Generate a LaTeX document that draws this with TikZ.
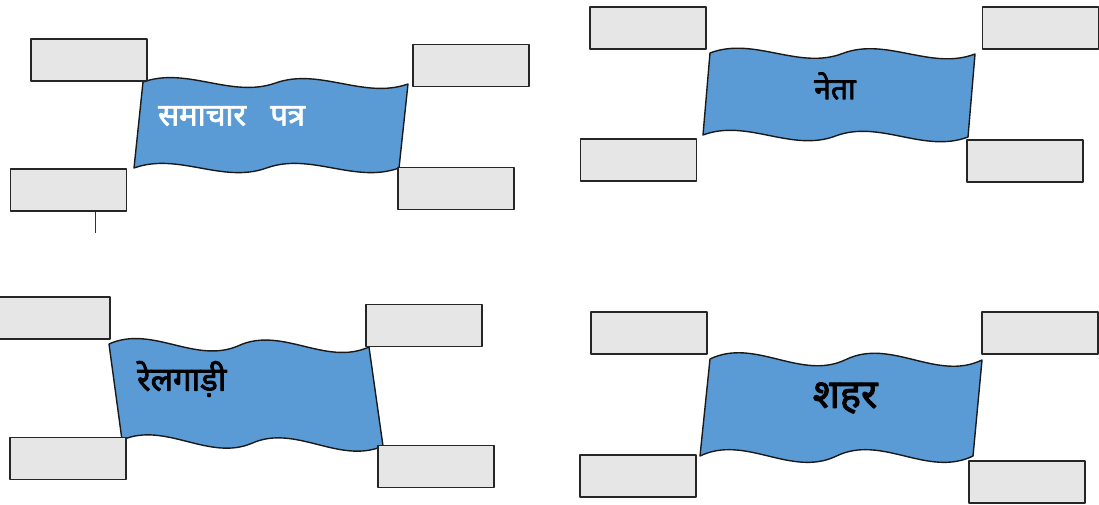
\documentclass[tikz,border=0pt]{standalone}
\usepackage{fontspec}
\newfontfamily\hindi[Script=Devanagari, AutoFakeBold=2.5]{Noto Sans}
\usetikzlibrary{calc}
\definecolor{flagblue}{HTML}{5B9BD5}
\definecolor{boxgray}{HTML}{E6E6E6}
% wavy banner through the corners #1tl, #1tr, #1br, #1bl; #2 is the wave depth
\newcommand{\banner}[2]{%
  \draw[flag] (#1tl) .. controls ($(#1tl)!1/6!(#1tr)+(0,-#2)$) and ($(#1tl)!1/3!(#1tr)+(0,#2)$) .. ($(#1tl)!0.5!(#1tr)$)
    .. controls ($(#1tl)!2/3!(#1tr)+(0,-#2)$) and ($(#1tl)!5/6!(#1tr)+(0,#2)$) .. (#1tr)
    -- (#1br) .. controls ($(#1bl)!5/6!(#1br)+(0,#2)$) and ($(#1bl)!2/3!(#1br)+(0,-#2)$) .. ($(#1bl)!0.5!(#1br)$)
    .. controls ($(#1bl)!1/3!(#1br)+(0,#2)$) and ($(#1bl)!1/6!(#1br)+(0,-#2)$) .. (#1bl) -- cycle;}
\begin{document}
\begin{tikzpicture}[x=1pt, y=-1pt, line join=round,
  blank/.style={draw=black!85, fill=boxgray, line width=1.7pt, minimum width=116pt, minimum height=42pt, inner sep=0pt},
  flag/.style={draw=black!90, fill=flagblue, line width=1.4pt},
  lbl/.style={font=\hindi\bfseries\fontsize{30}{34}\selectfont, inner sep=0pt}]
\useasboundingbox (0,0) rectangle (1099,504);

% ---------- top left: samachar patra ----------
\coordinate (f1tl) at (143,82); \coordinate (f1tr) at (408,84);
\coordinate (f1br) at (399,168); \coordinate (f1bl) at (134,168);
\banner{f1}{16}
\node[lbl, text=white, anchor=west, font=\hindi\bfseries\fontsize{31}{34}\selectfont] (t1) at (158,116) {समाचार~~~पत्र};
\node[blank] (a1) at (89,60) {};
\node[blank] (b1) at (471,65.5) {};
\node[blank] (c1) at (68.5,190) {};
\node[blank] (d1) at (456,188.5) {};
\coordinate (tick) at (95,233);
\draw[black!80, line width=0.8pt] (tick) -- (tick |- c1.south);

% ---------- top right: neta ----------
\coordinate (f2tl) at (710,53); \coordinate (f2tr) at (975,54);
\coordinate (f2br) at (968,137); \coordinate (f2bl) at (703,135);
\banner{f2}{17}
\node[lbl] (t2) at (835,86) {नेता};
\node[blank] (a2) at (648,28) {};
\node[blank] (b2) at (1040.5,28) {};
\node[blank] (c2) at (638.5,160) {};
\node[blank] (d2) at (1025,161) {};

% ---------- bottom left: railgadi ----------
\coordinate (f3tl) at (109,344); \coordinate (f3tr) at (369,347);
\coordinate (f3br) at (383,446); \coordinate (f3bl) at (122,440);
\banner{f3}{20}
\node[lbl, anchor=west, font=\hindi\bfseries\fontsize{33}{36}\selectfont] (t3) at (137,379) {रेलगाड़ी};
\node[blank] (a3) at (52,318) {};
\node[blank] (b3) at (424,325.5) {};
\node[blank] (c3) at (68,458.5) {};
\node[blank] (d3) at (436,466.5) {};

% ---------- bottom right: shahar ----------
\coordinate (f4tl) at (710,359); \coordinate (f4tr) at (982,360);
\coordinate (f4br) at (973,456); \coordinate (f4bl) at (700,456);
\banner{f4}{22}
\node[lbl, font=\hindi\bfseries\fontsize{40}{44}\selectfont] (t4) at (845,398) {शहर};
\node[blank] (a4) at (649,333) {};
\node[blank] (b4) at (1040,333) {};
\node[blank] (c4) at (638,476) {};
\node[blank] (d4) at (1027,482) {};

\end{tikzpicture}
\end{document}
